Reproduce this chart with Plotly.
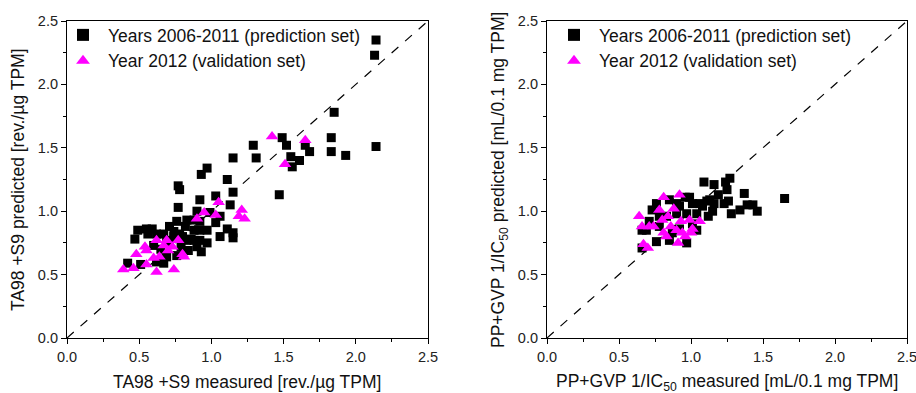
import plotly.graph_objects as go

# ---- Left panel: TA98 +S9 ----
ta_pred_x = [2.14, 2.13, 1.85, 2.14, 1.83, 1.83, 1.93, 1.68, 1.65, 1.61, 1.56, 1.55, 1.52, 1.49, 1.47,
             1.29, 1.31, 1.15, 1.11, 1.15, 1.13, 0.97, 0.93, 0.92, 1.03, 0.77, 0.78, 0.77, 0.99, 0.90,
             1.06, 1.03, 1.06, 1.11, 1.15, 1.15, 0.97, 0.93, 0.76, 0.83, 0.88, 0.92, 0.97, 0.83, 0.88,
             0.78, 0.71, 0.67, 0.62, 0.56, 0.49, 0.55, 0.47, 0.84, 0.76, 0.67, 0.62, 0.51, 0.42, 0.60,
             0.71, 0.92, 0.90, 0.79, 0.88, 0.82, 0.74, 0.69, 0.92, 0.69, 0.59, 0.80, 0.86, 0.74, 0.65]
ta_pred_y = [2.35, 2.23, 1.78, 1.51, 1.58, 1.47, 1.44, 1.47, 1.52, 1.40, 1.35, 1.43, 1.52, 1.58, 1.13,
             1.52, 1.42, 1.42, 1.25, 1.15, 1.05, 1.34, 1.29, 1.09, 1.12, 1.20, 1.17, 1.03, 0.99, 1.00,
             0.96, 0.91, 0.80, 0.86, 0.83, 0.79, 0.75, 0.68, 0.92, 0.93, 0.85, 0.85, 0.85, 0.77, 0.77,
             0.82, 0.88, 0.82, 0.82, 0.82, 0.85, 0.86, 0.78, 0.69, 0.65, 0.59, 0.60, 0.58, 0.59, 0.73,
             0.75, 0.77, 0.72, 0.72, 0.93, 0.88, 0.80, 0.77, 0.92, 0.64, 0.86, 0.80, 0.78, 0.84, 0.70]
ta_val_x = [1.42, 1.65, 1.51, 1.05, 1.21, 1.23, 1.19, 1.03, 0.95, 0.90, 0.39, 0.46, 0.48, 0.54,
            0.55, 0.62, 0.60, 0.55, 0.62, 0.74, 0.67, 0.69, 0.73, 0.77, 0.80, 0.81, 0.64, 0.70]
ta_val_y = [1.59, 1.56, 1.37, 1.07, 1.01, 0.94, 0.96, 0.97, 0.99, 0.94, 0.54, 0.55, 0.66, 0.72,
            0.69, 0.77, 0.63, 0.58, 0.52, 0.54, 0.73, 0.77, 0.72, 0.77, 0.66, 0.64, 0.64, 0.69]

# ---- Right panel: PP+GVP 1/IC50 ----
pp_pred_x = [1.65, 1.46, 1.43, 1.39, 1.37, 1.34, 1.28, 1.27, 1.24, 1.25, 1.26, 1.23, 1.16, 1.09, 1.19,
             1.16, 1.11, 1.15, 1.12, 1.08, 0.99, 0.96, 1.01, 1.04, 0.97, 0.85, 0.76, 0.73, 0.76, 0.66,
             0.66, 0.85, 0.92, 1.01, 1.04, 0.83, 0.90, 0.92, 0.97, 0.71, 0.78, 0.87, 0.78, 0.69, 1.06,
             1.13, 0.90]
pp_pred_y = [1.10, 1.00, 1.05, 1.05, 1.14, 1.01, 0.98, 1.26, 1.23, 1.17, 1.08, 1.06, 1.21, 1.23, 1.13,
             1.06, 1.08, 1.00, 0.96, 1.04, 1.11, 1.11, 1.06, 0.98, 0.75, 1.09, 1.06, 1.01, 0.76, 0.71,
             0.85, 0.77, 0.86, 0.90, 0.85, 0.96, 0.98, 1.04, 0.98, 0.92, 0.88, 0.83, 0.96, 0.85, 1.06,
             1.09, 1.06]
pp_val_x = [0.64, 0.67, 0.70, 0.66, 0.71, 0.74, 0.81, 0.78, 0.84, 0.88, 0.92, 0.93, 0.99, 1.06,
            0.91, 0.81, 0.83, 0.96, 1.00, 1.01, 0.90, 0.94, 0.86, 0.80]
pp_val_y = [0.96, 0.74, 0.71, 0.88, 0.88, 0.88, 1.11, 1.01, 0.96, 1.02, 1.13, 0.92, 0.93, 0.92,
            0.75, 0.83, 0.80, 0.80, 0.83, 0.86, 0.85, 0.83, 0.88, 0.93]

identity = [0.0, 2.5]
tick_vals = [0.0, 0.5, 1.0, 1.5, 2.0, 2.5]
tick_text = ["0.0", "0.5", "1.0", "1.5", "2.0", "2.5"]

name_pred = "Years 2006-2011 (prediction set)"
name_val = "Year 2012 (validation set)"

FONT = "Liberation Sans, Arial, sans-serif"
fig = go.Figure()

def add_panel(xa, ya, leg, px, py, vx, vy):
    fig.add_trace(go.Scatter(x=identity, y=identity, mode="lines", xaxis=xa, yaxis=ya,
                             line=dict(color="black", width=1.2, dash="dash"), showlegend=False,
                             hoverinfo="skip"))
    fig.add_trace(go.Scatter(x=px, y=py, mode="markers", name=name_pred, xaxis=xa, yaxis=ya,
                             legend=leg, marker=dict(symbol="square", size=9, color="black")))
    fig.add_trace(go.Scatter(x=vx, y=vy, mode="markers", name=name_val, xaxis=xa, yaxis=ya,
                             legend=leg, marker=dict(symbol="triangle-up", size=11, color="#ff00ff")))

add_panel("x", "y", "legend", ta_pred_x, ta_pred_y, ta_val_x, ta_val_y)
add_panel("x2", "y2", "legend2", pp_pred_x, pp_pred_y, pp_val_x, pp_val_y)

def axis(domain, anchor):
    return dict(domain=domain, anchor=anchor, range=[0, 2.5], showgrid=False, zeroline=False,
                automargin=False, ticklabeloverflow="allow",
                showline=True, linecolor="black", linewidth=1.2, mirror=True,
                ticks="outside", ticklen=5, tickcolor="black", tickwidth=1,
                tickvals=tick_vals, ticktext=tick_text,
                tickfont=dict(family=FONT, size=14.5, color="#222"),
                minor=dict(ticks="outside", ticklen=3, tickcolor="black", dtick=0.25, tick0=0))

ydom = [1 - 338 / 393, 1 - 21 / 393]
leg_common = dict(font=dict(family=FONT, size=17.5, color="#111"), bgcolor="rgba(0,0,0,0)",
                  xanchor="left", yanchor="top", tracegroupgap=0, itemsizing="constant",
                  itemwidth=40)

fig.update_layout(
    width=916, height=393, margin=dict(l=0, r=0, t=0, b=0),
    paper_bgcolor="white", plot_bgcolor="white",
    xaxis=axis([67 / 916, 428 / 916], "y"),
    yaxis=axis(ydom, "x"),
    xaxis2=axis([547 / 916, 907 / 916], "y2"),
    yaxis2=axis(ydom, "x2"),
    legend=dict(x=58 / 916, y=1 - 17 / 393, **leg_common),
    legend2=dict(x=549 / 916, y=1 - 17 / 393, **leg_common),
    annotations=[
        dict(text="TA98 +S9 measured [rev./\u00b5g TPM]", xref="paper", yref="paper",
             x=(67 + 428) / 2 / 916, y=1 - 382 / 393, xanchor="center", yanchor="middle",
             showarrow=False, font=dict(family=FONT, size=17.5, color="#111")),
        dict(text="TA98 +S9 predicted [rev./\u00b5g TPM]", xref="paper", yref="paper",
             x=18 / 916, y=1 - 180 / 393, xanchor="center", yanchor="middle", textangle=-90,
             showarrow=False, font=dict(family=FONT, size=17.5, color="#111")),
        dict(text="PP+GVP 1/IC<sub>50</sub> measured [mL/0.1 mg TPM]", xref="paper", yref="paper",
             x=(547 + 907) / 2 / 916, y=1 - 382 / 393, xanchor="center", yanchor="middle",
             showarrow=False, font=dict(family=FONT, size=17.5, color="#111")),
        dict(text="PP+GVP 1/IC<sub>50</sub> predicted [mL/0.1 mg TPM]", xref="paper", yref="paper",
             x=499 / 916, y=1 - 180 / 393, xanchor="center", yanchor="middle", textangle=-90,
             showarrow=False, font=dict(family=FONT, size=17.5, color="#111")),
    ],
)

fig.write_html("out.html")
